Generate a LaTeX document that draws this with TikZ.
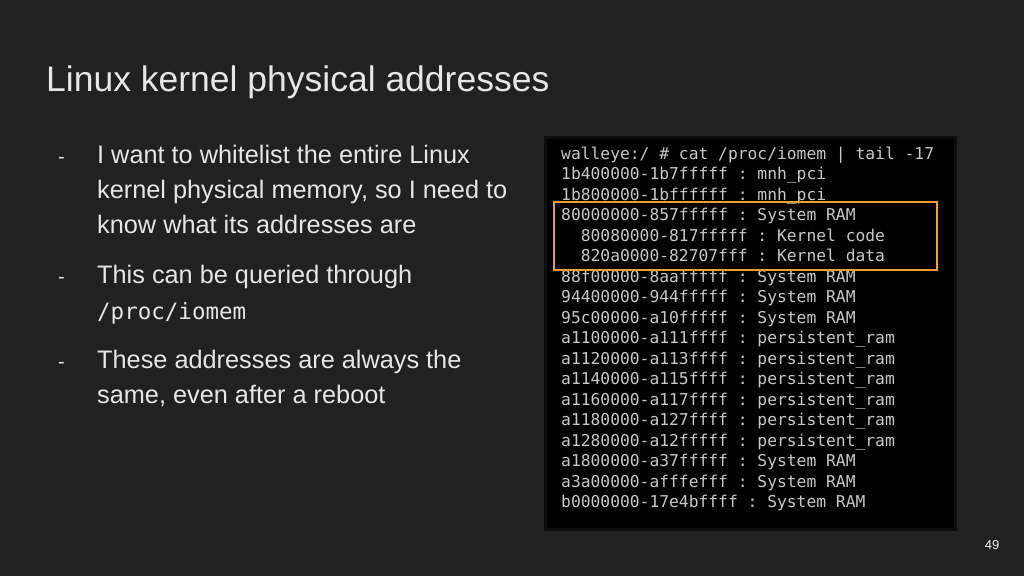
\documentclass[tikz,border=0pt]{standalone}
\usepackage{fontspec}
\setmainfont{Liberation Sans}
\setmonofont{DejaVu Sans Mono}
\definecolor{slidebg}{HTML}{212121}
\definecolor{slidetext}{HTML}{E6E6E6}
\definecolor{termtext}{HTML}{C8C8C8}
\definecolor{hilite}{HTML}{F0A030}
\tikzset{
  bodyline/.style={anchor=west,inner sep=0pt,text height=18pt,text depth=5pt,text=slidetext,font=\fontsize{25.3}{30}\selectfont},
  termline/.style={anchor=west,inner sep=0pt,text height=12pt,text depth=4pt,text=termtext,font=\ttfamily\fontsize{16.3}{20}\selectfont}
}
\begin{document}
\begin{tikzpicture}[x=1pt,y=-1pt]
  \fill[slidebg] (0,0) rectangle (1024,576);
  \useasboundingbox (0,0) rectangle (1024,576);
  \node[anchor=west,inner sep=0pt,text=slidetext,font=\fontsize{35.5}{40}\selectfont] (title) at (46,82) {Linux kernel physical addresses};
  % bullets
  \node[bodyline,font=\fontsize{20}{26}\selectfont] (d1) at (58,157) {-};
  \node[bodyline] (b1a) at (97,157) {I want to whitelist the entire Linux};
  \node[bodyline] (b1b) at (97,192) {kernel physical memory, so I need to};
  \node[bodyline] (b1c) at (97,227) {know what its addresses are};
  \node[bodyline,font=\fontsize{20}{26}\selectfont] (d2) at (58,277) {-};
  \node[bodyline] (b2a) at (97,277) {This can be queried through};
  \node[bodyline,font=\ttfamily\fontsize{22.5}{26}\selectfont] (b2b) at (97,313) {/proc/iomem};
  \node[bodyline,font=\fontsize{20}{26}\selectfont] (d3) at (58,362) {-};
  \node[bodyline] (b3a) at (97,362) {These addresses are always the};
  \node[bodyline] (b3b) at (97,397) {same, even after a reboot};
  % terminal
  \filldraw[fill=black,draw=black!60!slidebg,line width=3pt] (545,137) rectangle (955,529);
  \foreach \txt [count=\i from 0] in {
    walleye:/ \# cat /proc/iomem | tail -17,
    1b400000-1b7fffff : mnh\_pci,
    1b800000-1bffffff : mnh\_pci,
    80000000-857fffff : System RAM,
    {\ \ 80080000-817fffff : Kernel code},
    {\ \ 820a0000-82707fff : Kernel data},
    88f00000-8aafffff : System RAM,
    94400000-944fffff : System RAM,
    95c00000-a10fffff : System RAM,
    a1100000-a111ffff : persistent\_ram,
    a1120000-a113ffff : persistent\_ram,
    a1140000-a115ffff : persistent\_ram,
    a1160000-a117ffff : persistent\_ram,
    a1180000-a127ffff : persistent\_ram,
    a1280000-a12fffff : persistent\_ram,
    a1800000-a37fffff : System RAM,
    a3a00000-afffefff : System RAM,
    b0000000-17e4bffff : System RAM}
    \node[termline] (t\i) at (561,155+20.5*\i) {\txt};
  \draw[hilite,line width=1.5pt] (554,202) rectangle (937,270);
  \node[text=slidetext!80,font=\fontsize{13}{15}\selectfont] (page) at (992,545) {49};
\end{tikzpicture}
\end{document}
